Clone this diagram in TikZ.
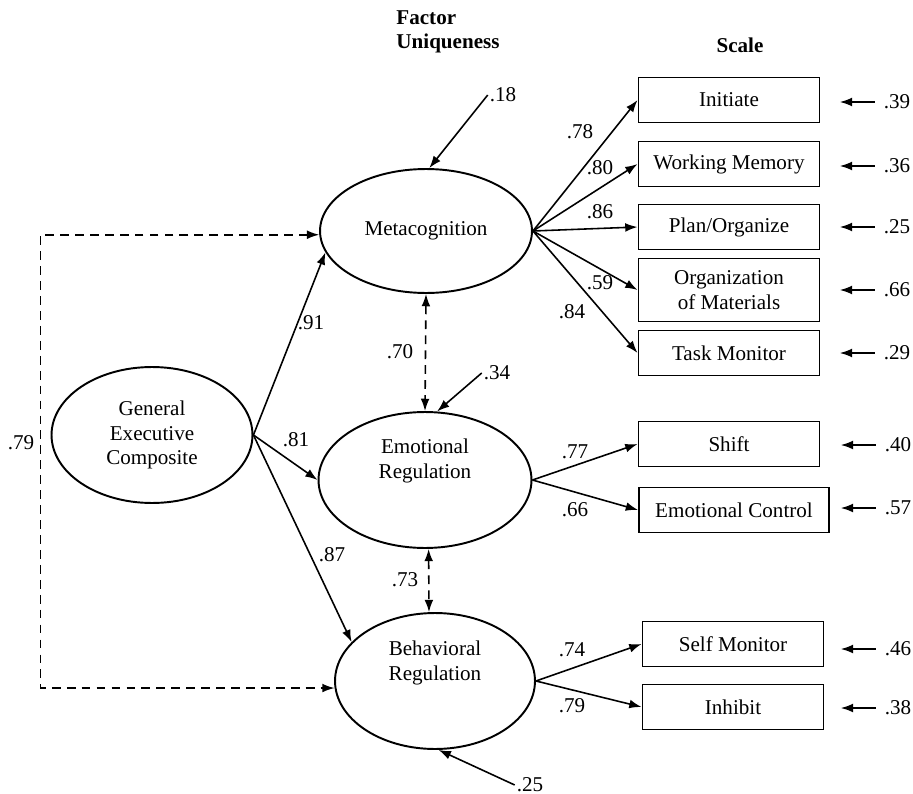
\documentclass[tikz,border=0pt]{standalone}
\usepackage{fontspec}
\setmainfont{Liberation Serif}
\usetikzlibrary{calc}
\usetikzlibrary{shapes.geometric}
\usetikzlibrary{arrows.meta}

\tikzset{
  latent/.style={ellipse,draw,line width=1.1pt,minimum width=4.1cm,minimum height=2.72cm,inner sep=0pt,align=center},
  scalebox/.style={rectangle,draw,line width=1.1pt,minimum width=3.62cm,minimum height=0.9cm,inner sep=2pt,align=center},
  load/.style={line width=0.9pt,-{Latex[length=7pt,width=5pt]}},
  err/.style={load,shorten <=4pt},
  corr/.style={line width=0.9pt,dash pattern=on 5pt off 3.5pt,{Latex[length=7pt,width=5pt]}-{Latex[length=7pt,width=5pt]}},
  hd/.style={font=\fontsize{12}{14}\selectfont\bfseries}
}

\begin{document}
\begin{tikzpicture}[x=0.02cm,y=-0.02cm,font=\fontsize{12}{14}\selectfont,inner sep=1pt]
\useasboundingbox (0,0) rectangle (913,794);
\node[hd,align=left] (h1) at (448,32) {Factor\\Uniqueness};
\node[hd] (h2) at (740,45) {Scale};

\node[latent,minimum width=4.24cm,minimum height=2.48cm] (mc) at (426,231) {Metacognition};
\node[latent,minimum width=4.26cm] (er) at (425,480) {};
\node[align=center] (erl) at ($(er)+(0,-19)$) {Emotional\\Regulation};
\node[latent,minimum width=4cm] (br) at (435,681) {};
\node[align=center] (brl) at ($(br)+(0,-18)$) {Behavioral\\Regulation};
\node[latent,minimum width=4.02cm] (gec) at (152,435) {General\\Executive\\Composite};

\node[scalebox] (s1) at (729,100) {Initiate};
\node[scalebox] (s2) at (729,164) {Working Memory};
\node[scalebox] (s3) at (729,227) {Plan/Organize};
\node[scalebox,minimum height=1.26cm] (s4) at (729,290) {Organization\\of Materials};
\node[scalebox] (s5) at (729,353) {Task Monitor};
\node[scalebox] (s6) at (729,444) {Shift};
\node[scalebox,minimum width=3.8cm] (s7) at (734,510) {Emotional Control};
\node[scalebox] (s8) at (733,644) {Self Monitor};
\node[scalebox] (s9) at (733,707) {Inhibit};

\node (e1) at (897,102) {.39};
\node (e2) at (897,166) {.36};
\node (e3) at (897,227) {.25};
\node (e4) at (897,290) {.66};
\node (e5) at (897,353) {.29};
\node (e6) at (898,445) {.40};
\node (e7) at (898,508) {.57};
\node (e8) at (898,649) {.46};
\node (e9) at (898,708) {.38};
\foreach \i in {1,...,9}
  \draw[err] (e\i.west) -- ($(e\i.west)+(-42,0)$);

\draw[load] (mc.east) -- (s1.west);
\draw[load] (mc.east) -- (s2.west);
\draw[load] (mc.east) -- (s3.west);
\draw[load] (mc.east) -- (s4.west);
\draw[load] (mc.east) -- (s5.west);
\draw[load] (er.east) -- (s6.west);
\draw[load] (er.east) -- (s7.west);
\draw[load] (br.east) -- (s8.west);
\draw[load] (br.east) -- (s9.west);
\draw[load] (gec.east) -- (mc.192);
\draw[load] (gec.east) -- (er.west);
\draw[load] (gec.east) -- (br.155);

\draw[corr] (mc.south) -- (er.north);
\draw[corr] (er.-87) -- (br.95);
\draw[corr] (mc.182) -| ($(gec.west)+(-10,0)$) |- (br.184);

\node (u1) at (503,95) {.18};
\node (u2) at (497,373) {.34};
\node (u3) at (530,785) {.25};
\draw[load] (u1.west) -- (mc.87);
\draw[load] (u2.west) -- (er.80);
\draw[load] (u3.west) -- (br.-87);

\node (l1) at (580,132) {.78};
\node (l2) at (600,168) {.80};
\node (l3) at (600,212) {.86};
\node (l4) at (600,283) {.59};
\node (l5) at (572,312) {.84};
\node (l6) at (575,452) {.77};
\node (l7) at (575,510) {.66};
\node (l8) at (572,650) {.74};
\node (l9) at (572,706) {.79};
\node (g1) at (311,323) {.91};
\node (g2) at (296,440) {.81};
\node (g3) at (332,555) {.87};
\node (c1) at (400,352) {.70};
\node (c2) at (405,580) {.73};
\node (c3) at (21,443) {.79};
\end{tikzpicture}
\end{document}
